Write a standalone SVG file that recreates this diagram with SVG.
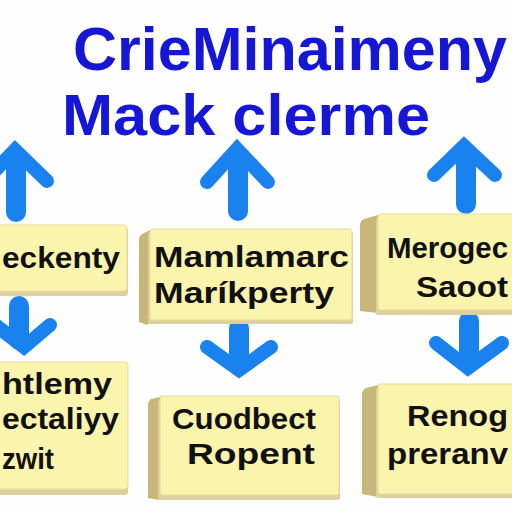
<svg xmlns="http://www.w3.org/2000/svg" width="512" height="512" viewBox="0 0 512 512">
<defs>
<style>
.title{font-family:"Liberation Sans",Arial,sans-serif;fill:#1616d6;font-weight:bold}
.lbl{font-family:"Liberation Sans",Arial,sans-serif;fill:#111;font-weight:bold;font-size:30px}
.face{fill:#fbf4ad;stroke:#e6dc98;stroke-width:1}
.side{fill:#c9b77a}
.shadow{fill:#ddd0a0}
.shaft{stroke:#1a82ee;stroke-width:20;stroke-linecap:round;fill:none}
.head{stroke:#1a82ee;stroke-width:14;stroke-linecap:round;stroke-linejoin:miter;fill:none}
</style>
</defs>
<rect width="512" height="512" fill="#fefefe"/>
<g id="title">
<text class="title" x="73" y="70" font-size="61" textLength="434" lengthAdjust="spacingAndGlyphs">CrieMinaimeny</text>
<text class="title" x="62" y="135" font-size="57" textLength="368" lengthAdjust="spacingAndGlyphs">Mack clerme</text>
</g>
<g id="connectors">
<g id="arrow-up-left">
<line class="shaft" x1="16" y1="160" x2="16" y2="212"/>
<polyline class="head" points="-16,182 15,150 47,181"/>
</g>
<g id="arrow-up-mid">
<line class="shaft" x1="238" y1="158" x2="238" y2="211"/>
<polyline class="head" points="207,182 237,149 268,182"/>
</g>
<g id="arrow-up-right">
<line class="shaft" x1="466" y1="155" x2="466" y2="204"/>
<polyline class="head" points="434,175 464,146 495,175"/>
</g>
<g id="arrow-down-left">
<line class="shaft" x1="19" y1="306" x2="19" y2="340"/>
<polyline class="head" points="-6,324 24,347 50,325"/>
</g>
<g id="arrow-down-mid">
<line class="shaft" x1="239" y1="328" x2="239" y2="362"/>
<polyline class="head" points="207,347 239,370 271,347"/>
</g>
<g id="arrow-down-right">
<line class="shaft" x1="469" y1="321" x2="469" y2="358"/>
<polyline class="head" points="436,343 468,368 502,343"/>
</g>
</g>
<g id="node1">
<rect class="shadow" x="-5" y="228" width="133" height="68" rx="3"/>
<rect class="face" x="-5" y="225" width="132" height="66" rx="3"/>
<text class="lbl" x="2" y="268" font-size="31" textLength="118" lengthAdjust="spacingAndGlyphs">eckenty</text>
</g>
<g id="node2">
<path class="side" d="M150 230 L142 234 Q139 236 139 240 L139 322 L147 325 L150 322 Z"/>
<rect class="shadow" x="148" y="232" width="205" height="92" rx="2"/>
<rect class="face" x="150" y="229" width="202" height="91" rx="2"/>
<text class="lbl" x="154" y="267" font-size="31" textLength="195" lengthAdjust="spacingAndGlyphs">Mamlamarc</text>
<text class="lbl" x="154" y="303" font-size="31" textLength="180" lengthAdjust="spacingAndGlyphs">Maríkperty</text>
</g>
<g id="node3">
<path class="side" d="M378 215 L364 219 Q360 221 360 225 L360 311 L378 313 Z"/>
<rect class="shadow" x="376" y="217" width="140" height="98" rx="2"/>
<rect class="face" x="378" y="214" width="140" height="96" rx="2"/>
<text class="lbl" x="387" y="258" font-size="29.5" textLength="121" lengthAdjust="spacingAndGlyphs">Merogec</text>
<text class="lbl" x="416" y="297" textLength="92" lengthAdjust="spacingAndGlyphs">Saoot</text>
</g>
<g id="node4">
<rect class="shadow" x="-5" y="365" width="133" height="130" rx="3"/>
<rect class="face" x="-5" y="362" width="133" height="127" rx="3"/>
<text class="lbl" x="2" y="394" textLength="110" lengthAdjust="spacingAndGlyphs">htlemy</text>
<text class="lbl" x="2" y="429" textLength="117" lengthAdjust="spacingAndGlyphs">ectaliyy</text>
<text class="lbl" x="2" y="469" textLength="52" lengthAdjust="spacingAndGlyphs">zwit</text>
</g>
<g id="node5">
<path class="side" d="M160 397 L151 399 Q148 401 148 405 L148 498 L160 500 Z"/>
<rect class="shadow" x="158" y="400" width="182" height="100" rx="2"/>
<rect class="face" x="160" y="396" width="179" height="99" rx="2"/>
<text class="lbl" x="172" y="429" textLength="144" lengthAdjust="spacingAndGlyphs">Cuodbect</text>
<text class="lbl" x="187" y="464" textLength="128" lengthAdjust="spacingAndGlyphs">Ropent</text>
</g>
<g id="node6">
<path class="side" d="M378 385 L366 388 Q362 390 362 394 L362 494 L378 497 Z"/>
<rect class="shadow" x="376" y="388" width="140" height="110" rx="2"/>
<rect class="face" x="378" y="384" width="140" height="110" rx="2"/>
<text class="lbl" x="407" y="426" textLength="101" lengthAdjust="spacingAndGlyphs">Renog</text>
<text class="lbl" x="387" y="464" textLength="121" lengthAdjust="spacingAndGlyphs">preranv</text>
</g>
</svg>
